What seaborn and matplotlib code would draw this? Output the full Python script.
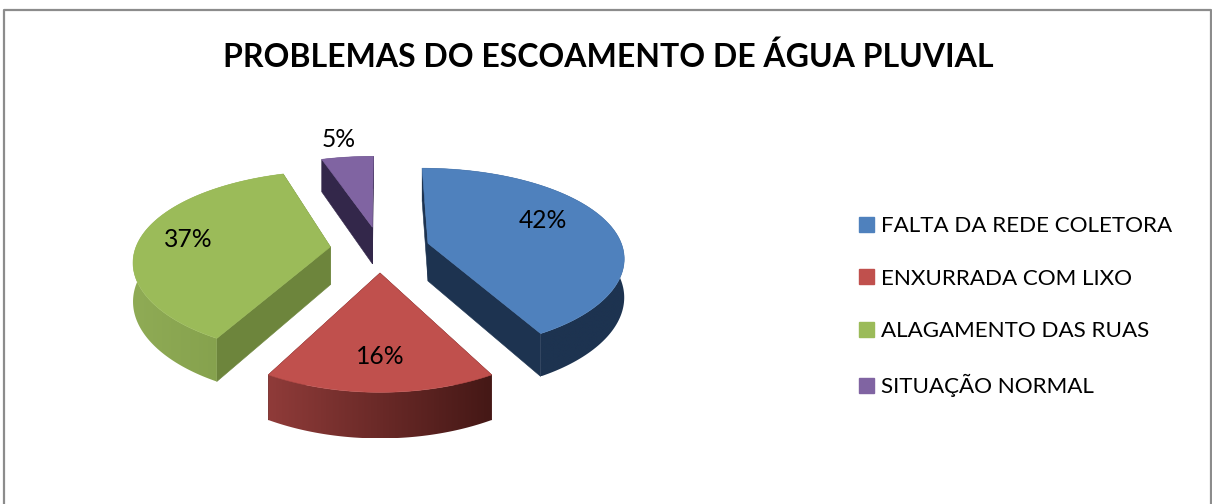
import numpy as np
import matplotlib
matplotlib.use("Agg")
import matplotlib.pyplot as plt
from matplotlib.patches import Polygon, Patch
import seaborn as sns

categories = ["FALTA DA REDE COLETORA", "ENXURRADA COM LIXO", "ALAGAMENTO DAS RUAS", "SITUAÇÃO NORMAL"]
values = [42, 16, 37, 5]
title = "PROBLEMAS DO ESCOAMENTO DE ÁGUA PLUVIAL"

top_colors = ["#4f81bd", "#c0504d", "#9bbb59", "#8064a2"]
radial_colors = ["#1d3350", "#4a1a18", "#6d853c", "#33274a"]
arc_ramps = [["#1d3350", "#1d3350"], ["#8f3b39", "#451816"], ["#8fab55", "#7f9b48"], ["#33274a", "#33274a"]]
label_offsets = [0.62, 0.74, 0.80, 1.28]
label_nudges = [(2, -10), (0, 0), (11, -1), (-3, -1)]

sns.set_theme(style="white")
plt.rcParams['font.family'] = ['Lato', 'DejaVu Sans']

CX, CY, R, TILT, PERSP_X, PERSP_Y, DEPTH, EXPLODE = 380, 249, 195, 0.46, 0.14, 0.17, 38, 50


def project(X, Y, z=0.0):
    X, Y = np.asarray(X, float), np.asarray(Y, float)
    sx = 1 / (1 + PERSP_X * Y / R)
    sy = 1 / (1 + PERSP_Y * Y / R)
    return np.column_stack([CX + X * sx, CY - TILT * Y * sy + z * sx])


fig, ax = plt.subplots(figsize=(12.12, 5.04), dpi=100)
ax.set_position([0, 0, 1, 1])
ax.axis("off")

fractions = np.array(values) / np.sum(values)
edges = np.concatenate([[0], np.cumsum(fractions)]) * 2 * np.pi
wedges = []
for i in range(len(values)):
    a0, a1 = edges[i], edges[i + 1]
    mid = (a0 + a1) / 2
    theta = np.linspace(a0, a1, 120)
    wedges.append((i, theta, EXPLODE * np.sin(mid), EXPLODE * np.cos(mid), mid))

for i, theta, ex, ey, mid in [wedges[3], wedges[2], wedges[0], wedges[1]]:
    X = ex + R * np.sin(theta)
    Y = ey + R * np.cos(theta)
    top = project(X, Y)
    low = project(X, Y, DEPTH)
    apex_top = project([ex], [ey])
    apex_low = project([ex], [ey], DEPTH)
    for j in (0, -1):
        ax.add_patch(Polygon(np.vstack([apex_top, top[j], low[j], apex_low]), closed=True,
                             fc=radial_colors[i], ec=radial_colors[i], lw=0.4, zorder=2))
    ramp = np.array(sns.blend_palette(arc_ramps[i], 64))[:, :3][np.newaxis, :, :]
    silhouette = Polygon(np.vstack([top, low[::-1]]), closed=True, transform=ax.transData)
    extent = (top[:, 0].min(), top[:, 0].max(), low[:, 1].max(), top[:, 1].min())
    img = ax.imshow(ramp, extent=extent, aspect="auto", interpolation="bilinear", zorder=2)
    img.set_clip_path(silhouette)
    ax.add_patch(Polygon(np.vstack([apex_top, top]), closed=True, fc=top_colors[i],
                         ec=top_colors[i], lw=0.4, zorder=2))
    lx = ex + label_offsets[i] * R * np.sin(mid)
    ly = ey + label_offsets[i] * R * np.cos(mid)
    px = project([lx], [ly])[0]
    ax.text(px[0] + label_nudges[i][0], px[1] + label_nudges[i][1], f"{values[i]}%", fontsize=17.7,
            color="black", ha="center", va="center", zorder=5)

ax.set_xlim(0, 1212)
ax.set_ylim(504, 0)

ax.text(608, 57, title, fontsize=23, fontweight="bold", color="black", ha="center", va="center")

handles = [Patch(fc=c, ec=c) for c in top_colors]
ax.legend(handles, categories, loc="upper left", bbox_to_anchor=(859 / 1212, 1 - 216 / 504),
          frameon=False, fontsize=16.1, labelspacing=1.46, handlelength=0.675, handleheight=0.675,
          handletextpad=0.32, borderpad=0, borderaxespad=0, labelcolor="black")

ax.plot([3.5, 3.5, 1211, 1211], [504, 9.5, 9.5, 504], color="#8c8c8c", lw=1.6, zorder=1, clip_on=False)
ax.set_xlim(0, 1212)
ax.set_ylim(504, 0)
fig.savefig("out.png", dpi=100, facecolor="white")
